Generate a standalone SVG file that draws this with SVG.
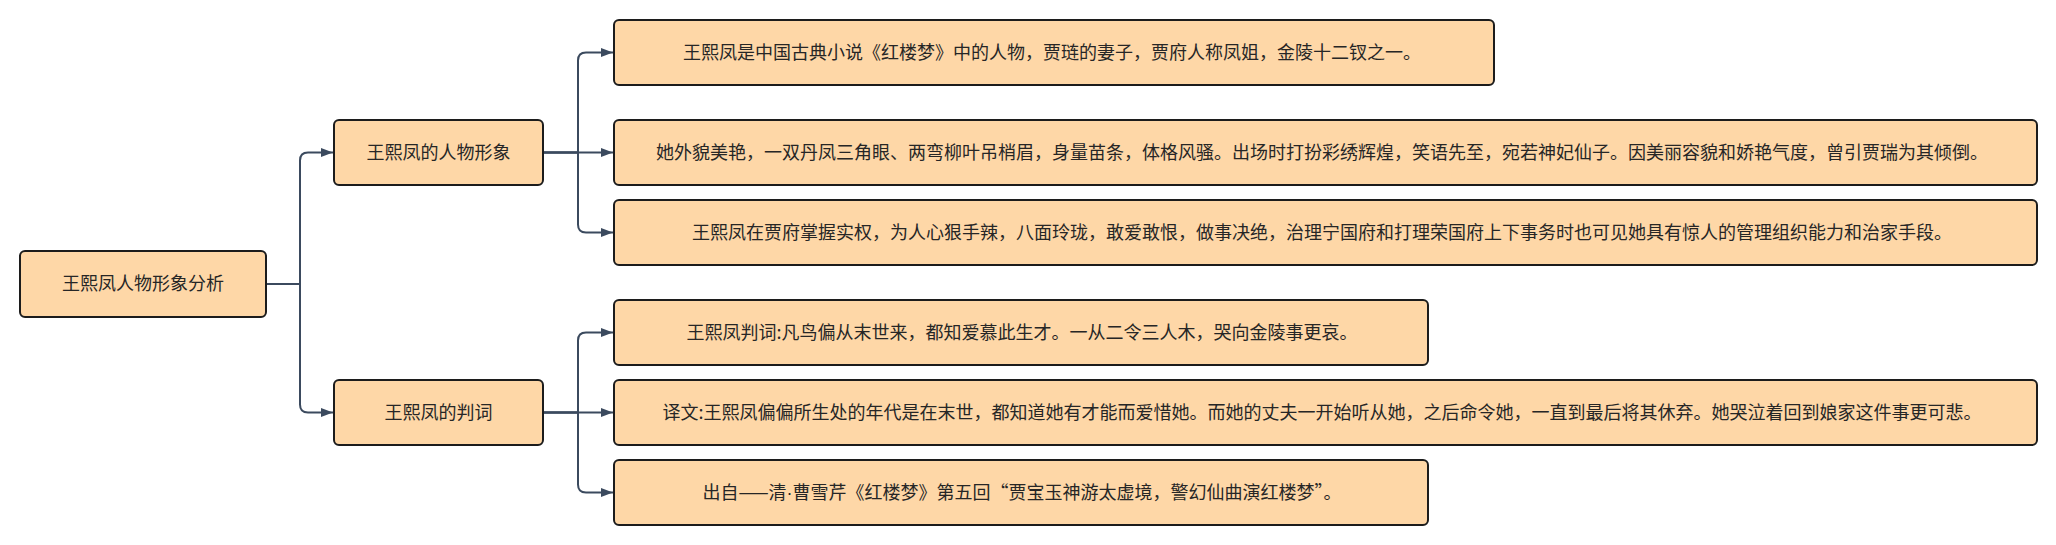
<svg xmlns="http://www.w3.org/2000/svg" width="2056" height="545" viewBox="0 0 2056 545">
<style>
.box{fill:#fed7a7;stroke:#1c1c1c;stroke-width:2}
.t{font-family:"Noto Sans CJK SC","Noto Sans",sans-serif;font-size:18px;fill:#262626;text-anchor:middle}
.n{font-family:"Liberation Sans",sans-serif}
.c{fill:none;stroke:#3b4a5e;stroke-width:2;marker-end:url(#arr)}
</style>
<defs>
<marker id="arr" markerUnits="userSpaceOnUse" markerWidth="13" markerHeight="10" refX="12" refY="4.5" orient="auto">
<path d="M0,0 L12,4.5 L0,9 z" fill="#3b4a5e"/>
</marker>
</defs>
<g id="connectors">
<path class="c" d="M266,284 H300 V160.5 Q300,152.5 308,152.5 H333"/>
<path class="c" d="M266,284 H300 V404.5 Q300,412.5 308,412.5 H333"/>
<path class="c" d="M543,152.5 H578 V60.5 Q578,52.5 586,52.5 H613"/>
<path class="c" d="M543,152.5 H613"/>
<path class="c" d="M543,152.5 H578 V224.5 Q578,232.5 586,232.5 H613"/>
<path class="c" d="M543,412.5 H578 V340.5 Q578,332.5 586,332.5 H613"/>
<path class="c" d="M543,412.5 H613"/>
<path class="c" d="M543,412.5 H578 V484.5 Q578,492.5 586,492.5 H613"/>
</g>
<g id="root">
<rect class="box" x="20" y="251" width="246" height="66" rx="5"/>
<text class="t" x="143" y="290">王熙凤人物形象分析</text>
</g>
<g id="mid1">
<rect class="box" x="334" y="120" width="209" height="65" rx="5"/>
<text class="t" x="438.5" y="158.5">王熙凤的人物形象</text>
</g>
<g id="mid2">
<rect class="box" x="334" y="380" width="209" height="65" rx="5"/>
<text class="t" x="438.5" y="418.5">王熙凤的判词</text>
</g>
<g id="leaf1">
<rect class="box" x="614" y="20" width="880" height="65" rx="5"/>
<text class="t" x="1052" y="58.5">王熙凤是中国古典小说《红楼梦》中的人物，贾琏的妻子，贾府人称凤姐，金陵十二钗之一。</text>
</g>
<g id="leaf2">
<rect class="box" x="614" y="120" width="1423" height="65" rx="5"/>
<text class="t" x="1322" y="158.5">她外貌美艳，一双丹凤三角眼、两弯柳叶吊梢眉，身量苗条，体格风骚。出场时打扮彩绣辉煌，笑语先至，宛若神妃仙子。因美丽容貌和娇艳气度，曾引贾瑞为其倾倒。</text>
</g>
<g id="leaf3">
<rect class="box" x="614" y="200" width="1423" height="65" rx="5"/>
<text class="t" x="1322" y="238.5">王熙凤在贾府掌握实权，为人心狠手辣，八面玲珑，敢爱敢恨，做事决绝，治理宁国府和打理荣国府上下事务时也可见她具有惊人的管理组织能力和治家手段。</text>
</g>
<g id="leaf4">
<rect class="box" x="614" y="300" width="814" height="65" rx="5"/>
<text class="t" x="1022" y="338.5">王熙凤判词:凡鸟偏从末世来，都知爱慕此生才。一从二令三人木，哭向金陵事更哀。</text>
</g>
<g id="leaf5">
<rect class="box" x="614" y="380" width="1423" height="65" rx="5"/>
<text class="t" x="1322" y="418.5">译文:王熙凤偏偏所生处的年代是在末世，都知道她有才能而爱惜她。而她的丈夫一开始听从她，之后命令她，一直到最后将其休弃。她哭泣着回到娘家这件事更可悲。</text>
</g>
<g id="leaf6">
<rect class="box" x="614" y="460" width="814" height="65" rx="5"/>
<text class="t" x="1022" y="498.5">出自——清<tspan class="n">·</tspan>曹雪芹《红楼梦》第五回“贾宝玉神游太虚境，警幻仙曲演红楼梦”。</text>
</g>
</svg>
